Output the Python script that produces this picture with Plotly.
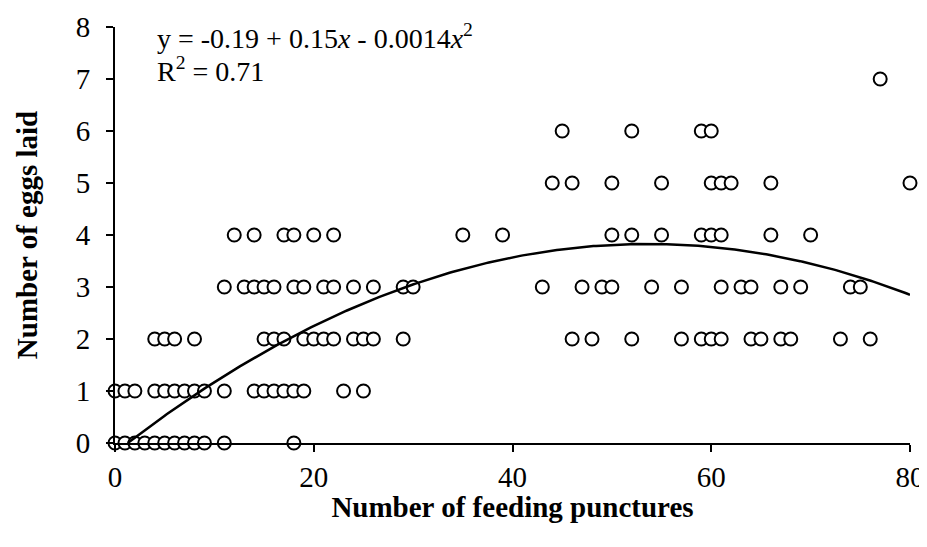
import numpy as np
import plotly.graph_objects as go

# Number of feeding punctures for each observed count of eggs laid
punctures_0_eggs = [0, 1, 2, 3, 4, 5, 6, 7, 8, 9, 11, 18]
punctures_1_egg = [0, 1, 2, 4, 5, 6, 7, 8, 9, 11, 14, 15, 16, 17, 18, 19, 23, 25]
punctures_2_eggs = [4, 5, 6, 8, 15, 16, 17, 19, 20, 21, 22, 24, 25, 26, 29,
                    46, 48, 52, 57, 59, 60, 61, 64, 65, 67, 68, 73, 76]
punctures_3_eggs = [11, 13, 14, 15, 16, 18, 19, 21, 22, 24, 26, 29, 30,
                    43, 47, 49, 50, 54, 57, 61, 63, 64, 67, 69, 74, 75]
punctures_4_eggs = [12, 14, 17, 18, 20, 22, 35, 39, 50, 52, 55, 59, 60, 61, 66, 70]
punctures_5_eggs = [44, 46, 50, 55, 60, 61, 62, 66, 80]
punctures_6_eggs = [45, 52, 59, 60]
punctures_7_eggs = [77]

egg_counts = [0, 1, 2, 3, 4, 5, 6, 7]
rows = [punctures_0_eggs, punctures_1_egg, punctures_2_eggs, punctures_3_eggs,
        punctures_4_eggs, punctures_5_eggs, punctures_6_eggs, punctures_7_eggs]

# Quadratic fit coefficients (from the equation shown)
c0, c1, c2 = -0.19, 0.15, -0.0014

x_ticks = [0, 20, 40, 60, 80]
y_ticks = [0, 1, 2, 3, 4, 5, 6, 7, 8]

xs, ys = [], []
for e, row in zip(egg_counts, rows):
    xs += row
    ys += [e] * len(row)

x_start = (-c1 + np.sqrt(c1**2 - 4 * c2 * c0)) / (2 * c2)
xf = np.linspace(x_start, 80, 300)
yf = c0 + c1 * xf + c2 * xf**2

font = "Liberation Serif"

fig = go.Figure()
fig.add_trace(go.Scatter(
    x=xs, y=ys, mode="markers", cliponaxis=False,
    marker=dict(symbol="circle", size=13, color="white",
                line=dict(color="black", width=2)),
    showlegend=False))
fig.add_trace(go.Scatter(
    x=xf, y=yf, mode="lines", cliponaxis=True,
    line=dict(color="black", width=2.5), showlegend=False))

fig.update_layout(
    width=919, height=515,
    margin=dict(l=107, r=17, t=19, b=80),
    paper_bgcolor="white", plot_bgcolor="white",
    font=dict(family=font, size=29, color="black"),
    xaxis=dict(range=[0, 80], tickvals=x_ticks, showgrid=False, zeroline=False,
               automargin=False,
               showline=True, linecolor="black", linewidth=2,
               ticks="outside", ticklen=7, tickwidth=2, tickcolor="black",
               tickfont=dict(family=font, size=29),
               title=dict(text="<b>Number of feeding punctures</b>",
                          font=dict(family=font, size=29), standoff=5)),
    yaxis=dict(range=[0, 8], tickvals=y_ticks, showgrid=False, zeroline=False,
               automargin=False,
               showline=True, linecolor="black", linewidth=2,
               ticks="outside", ticklen=7, tickwidth=2, tickcolor="black",
               ticklabelstandoff=10,
               tickfont=dict(family=font, size=29),
               title=dict(text="<b>Number of eggs laid</b>",
                          font=dict(family=font, size=29), standoff=30)),
    annotations=[
        dict(text="y = -0.19 + 0.15<i>x</i> - 0.0014<i>x</i><sup>2</sup>",
             xref="paper", yref="paper", x=0.05, y=0.976, xanchor="left", yanchor="middle",
             showarrow=False, font=dict(family=font, size=28)),
        dict(text="R<sup>2</sup> = 0.71",
             xref="paper", yref="paper", x=0.05, y=0.898, xanchor="left", yanchor="middle",
             showarrow=False, font=dict(family=font, size=28)),
    ],
)

fig.write_html("out.html")
